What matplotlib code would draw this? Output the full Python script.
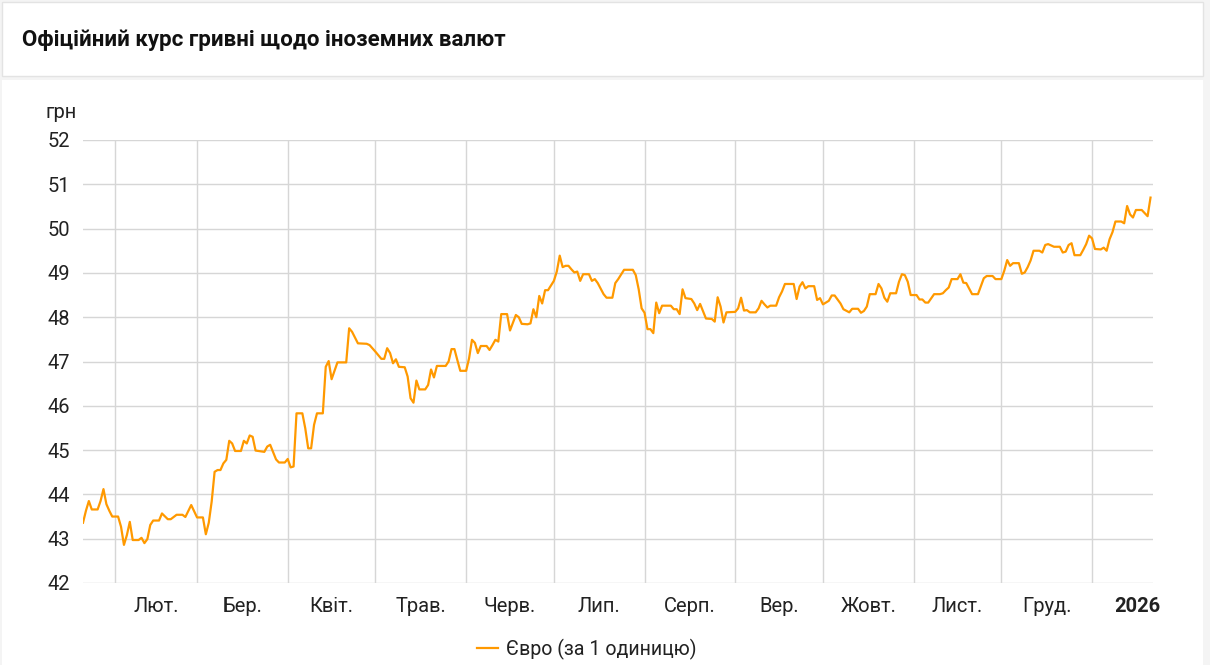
import numpy as np
import matplotlib
matplotlib.use("Agg")
import matplotlib.pyplot as plt
import matplotlib.dates as mdates
from matplotlib.patches import Rectangle

plt.rcParams['font.family'] = ['Roboto', 'DejaVu Sans']

# series: days after 2025-01-21 and EUR rate, UAH per 1 EUR
start = np.datetime64('2025-01-21')
days = [0, 1, 2, 3, 5, 6, 7, 8, 9, 10, 12, 13, 14, 15, 16, 17, 19, 20, 21, 22,
        23, 24, 26, 27, 29, 30, 32, 34, 35, 37, 39, 41, 42, 43, 44, 45, 46, 47, 48, 49,
        50, 51, 52, 54, 55, 56, 57, 58, 59, 62, 63, 64, 66, 67, 69, 70, 71, 72, 73, 75,
        76, 77, 78, 79, 80, 82, 83, 84, 85, 87, 90, 91, 92, 94, 97, 98, 100, 102, 103, 104,
        105, 106, 107, 108, 110, 111, 112, 113, 114, 115, 117, 118, 119, 120, 121, 124, 125, 126, 127, 128,
        129, 131, 132, 133, 134, 135, 136, 138, 139, 140, 141, 142, 143, 145, 146, 148, 149, 150, 152, 153,
        154, 155, 156, 157, 158, 159, 161, 162, 163, 164, 165, 166, 167, 168, 169, 170, 171, 173, 174, 175,
        176, 178, 179, 181, 182, 183, 185, 188, 189, 190, 191, 192, 193, 194, 195, 196, 197, 198, 201, 202,
        203, 204, 205, 206, 208, 209, 210, 211, 213, 215, 216, 217, 218, 219, 220, 223, 224, 225, 226, 227,
        228, 230, 231, 232, 233, 234, 235, 237, 238, 239, 240, 243, 244, 245, 246, 247, 248, 250, 251, 252,
        253, 255, 256, 257, 259, 260, 262, 263, 265, 266, 267, 268, 269, 271, 272, 273, 274, 275, 276, 278,
        279, 280, 281, 282, 283, 285, 286, 287, 288, 289, 291, 293, 294, 295, 296, 297, 299, 300, 301, 302,
        304, 306, 308, 309, 311, 312, 314, 315, 316, 317, 318, 320, 321, 322, 323, 324, 325, 327, 328, 329,
        330, 332, 334, 335, 336, 337, 338, 339, 341, 342, 343, 344, 345, 346, 348, 349, 350, 351, 352, 353,
        355, 356, 357, 358, 359, 360, 362, 364, 365]
eur = [43.36, 43.63, 43.85, 43.66, 43.66, 43.85, 44.12, 43.78, 43.63, 43.50, 43.50, 43.27, 42.86, 43.08, 43.38, 42.97, 42.97, 43.02, 42.90, 42.99,
       43.31, 43.41, 43.41, 43.57, 43.44, 43.44, 43.54, 43.54, 43.49, 43.76, 43.48, 43.48, 43.10, 43.36, 43.84, 44.51, 44.55, 44.55, 44.70, 44.78,
       45.21, 45.15, 44.98, 44.98, 45.21, 45.15, 45.33, 45.30, 44.99, 44.96, 45.08, 45.12, 44.79, 44.72, 44.72, 44.80, 44.61, 44.63, 45.83, 45.83,
       45.49, 45.04, 45.04, 45.57, 45.83, 45.83, 46.88, 47.01, 46.60, 46.98, 46.98, 47.75, 47.67, 47.41, 47.40, 47.37, 47.22, 47.06, 47.06, 47.30,
       47.19, 46.96, 47.05, 46.88, 46.87, 46.66, 46.17, 46.07, 46.57, 46.37, 46.37, 46.47, 46.82, 46.64, 46.90, 46.90, 47.00, 47.28, 47.28, 47.03,
       46.79, 46.79, 47.07, 47.49, 47.42, 47.19, 47.35, 47.35, 47.26, 47.37, 47.49, 47.45, 48.07, 48.07, 47.70, 48.05, 48.00, 47.85, 47.84, 47.86,
       48.18, 48.00, 48.48, 48.31, 48.61, 48.61, 48.82, 49.03, 49.39, 49.13, 49.16, 49.16, 49.08, 49.01, 49.03, 48.82, 48.97, 48.97, 48.82, 48.86,
       48.77, 48.52, 48.44, 48.44, 48.77, 48.86, 49.07, 49.07, 48.95, 48.63, 48.20, 48.10, 47.73, 47.73, 47.64, 48.33, 48.09, 48.26, 48.26, 48.18,
       48.18, 48.07, 48.63, 48.43, 48.41, 48.31, 48.16, 48.30, 47.97, 47.96, 47.90, 48.45, 48.24, 47.88, 48.11, 48.12, 48.20, 48.44, 48.15, 48.16,
       48.11, 48.11, 48.20, 48.37, 48.29, 48.22, 48.26, 48.26, 48.45, 48.58, 48.75, 48.75, 48.41, 48.69, 48.79, 48.65, 48.70, 48.70, 48.39, 48.43,
       48.29, 48.37, 48.49, 48.49, 48.31, 48.18, 48.11, 48.19, 48.19, 48.10, 48.14, 48.24, 48.52, 48.52, 48.75, 48.65, 48.44, 48.35, 48.54, 48.54,
       48.80, 48.97, 48.95, 48.80, 48.50, 48.50, 48.40, 48.40, 48.33, 48.33, 48.52, 48.52, 48.54, 48.61, 48.67, 48.86, 48.86, 48.97, 48.78, 48.77,
       48.52, 48.52, 48.88, 48.93, 48.93, 48.86, 48.86, 49.05, 49.29, 49.16, 49.22, 49.22, 48.98, 49.01, 49.13, 49.28, 49.50, 49.50, 49.46, 49.63,
       49.65, 49.59, 49.59, 49.46, 49.48, 49.63, 49.67, 49.40, 49.40, 49.52, 49.65, 49.84, 49.78, 49.54, 49.53, 49.57, 49.50, 49.76, 49.92, 50.16,
       50.16, 50.12, 50.51, 50.32, 50.25, 50.42, 50.42, 50.28, 50.70]

month_starts = ['2025-02-01', '2025-03-01', '2025-04-01', '2025-05-01', '2025-06-01', '2025-07-01',
                '2025-08-01', '2025-09-01', '2025-10-01', '2025-11-01', '2025-12-01', '2026-01-01', '2026-02-01']
month_labels = ['Лют.', 'Бер.', 'Квіт.', 'Трав.', 'Черв.', 'Лип.', 'Серп.', 'Вер.', 'Жовт.', 'Лист.', 'Груд.', '2026']
y_ticks = [42, 43, 44, 45, 46, 47, 48, 49, 50, 51, 52]

dates = start + np.array(days).astype('timedelta64[D]')
x = mdates.date2num(dates.astype('datetime64[s]').astype(object))
ms = mdates.date2num(np.array(month_starts, dtype='datetime64[D]').astype(object))
mid = (ms[:-1] + ms[1:]) / 2

W, H = 1210, 665
fs = 14.5
fig = plt.figure(figsize=(W / 100, H / 100), dpi=100, facecolor='#f4f4f4')

# cards behind everything
fig.patches.append(Rectangle((2 / W, 1 - 76 / H), 1201 / W, 74 / H, transform=fig.transFigure,
                             facecolor='white', edgecolor='#e3e3e3', lw=1, zorder=-5))
fig.patches.append(Rectangle((2 / W, 0), 1201 / W, 1 - 80 / H, transform=fig.transFigure,
                             facecolor='white', edgecolor='none', zorder=-5))
fig.text(22 / W, 1 - 40 / H, 'Офіційний курс гривні щодо іноземних валют', fontsize=16,
         fontweight='bold', color='#111111', va='center', ha='left')

ax = fig.add_axes([83 / W, 1 - 583 / H, (1153 - 83) / W, (583 - 140) / H], zorder=2)
ax.plot(x, eur, color='#ff9900', lw=1.6, solid_joinstyle='round', label='Євро (за 1 одиницю)', zorder=3)

ax.set_xlim(x[0], x[-1] + 0.85)
ax.set_ylim(42, 52)
ax.set_yticks(y_ticks)
ax.set_yticklabels([str(v) for v in y_ticks])
ax.set_xticks(ms[:-1])
ax.set_xticklabels([])
ax.set_xticks(mid, minor=True)
ax.set_xticklabels(month_labels, minor=True)
for lbl in ax.get_xticklabels(minor=True):
    if lbl.get_text() == '2026':
        lbl.set_fontweight('bold')
ax.tick_params(axis='both', which='both', length=0, labelsize=fs, colors='#222222')
ax.tick_params(axis='y', pad=9)
ax.tick_params(axis='x', which='minor', pad=10)
ax.grid(True, which='major', color='#d6d6d6', lw=1)
for s in ax.spines.values():
    s.set_visible(False)
ax.set_facecolor('white')

fig.text(46 / W, 1 - 113 / H, 'грн', fontsize=fs, color='#222222', va='center', ha='left')

leg = ax.legend(loc='center', bbox_to_anchor=(586.5 / W, 1 - 649 / H), bbox_transform=fig.transFigure,
                frameon=False, fontsize=14.1, handlelength=1.1, handletextpad=0.4)
for t in leg.get_texts():
    t.set_color('#222222')

fig.savefig('out.png', dpi=100, facecolor=fig.get_facecolor())
